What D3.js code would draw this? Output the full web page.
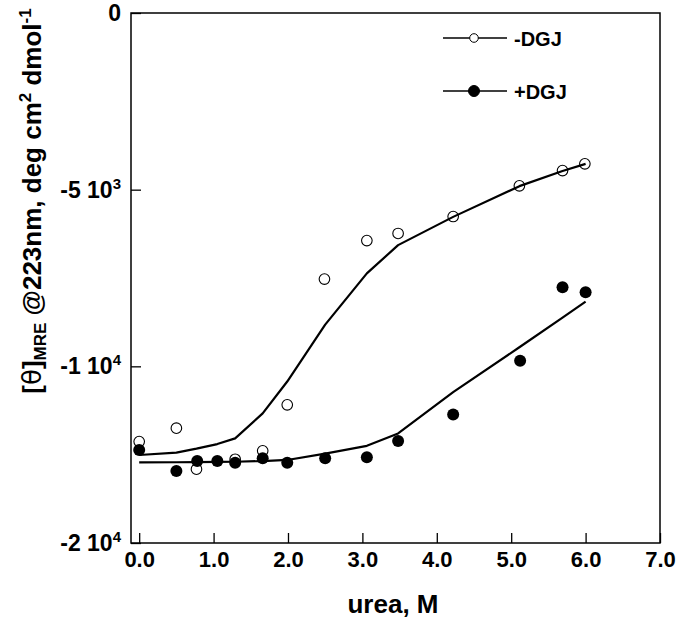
<!DOCTYPE html>
<html>
<head>
<meta charset="utf-8">
<script src="https://cdn.jsdelivr.net/npm/d3@7"></script>
<style>
  html, body { margin: 0; padding: 0; background: #fff; }
  svg { display: block; }
  text { font-family: "Liberation Sans", Arial, Helvetica, sans-serif; font-weight: bold; fill: #000; }
</style>
</head>
<body>
<svg id="chart" width="681" height="620"></svg>
<script>
// ---- data ----
const seriesNames = ["-DGJ", "+DGJ"];

const ureaMinus  = [0.00, 0.50, 0.77, 1.29, 1.66, 1.99, 2.49, 3.06, 3.48, 4.22, 5.11, 5.69, 5.99];
const thetaMinus = [-12130, -11750, -12910, -12630, -12390, -11090, -7530, -6440, -6240, -5760, -4890, -4460, -4270];

const ureaPlus  = [0.00, 0.50, 0.78, 1.05, 1.29, 1.66, 1.99, 2.50, 3.06, 3.48, 4.22, 5.12, 5.69, 6.00];
const thetaPlus = [-12370, -12960, -12680, -12680, -12730, -12600, -12730, -12600, -12570, -12110, -11360, -9840, -7760, -7900];

const fitUrea      = [0.00, 0.50, 0.77, 1.05, 1.29, 1.66, 1.99, 2.50, 3.06, 3.48, 4.22, 5.11, 5.69, 6.00];
const fitMinus     = [-12510, -12440, -12330, -12200, -12040, -11330, -10430, -8820, -7370, -6570, -5770, -4900, -4470, -4270];
const fitPlus      = [-12720, -12715, -12710, -12705, -12700, -12680, -12650, -12470, -12250, -11900, -10730, -9460, -8620, -8170];

const xTickValues = [0, 1, 2, 3, 4, 5, 6, 7];
const yTickValues = [0, -5000, -10000, -15000];
const yTickBase   = ["0", "-5 10", "-1 10", "-2 10"];
const yTickExp    = ["", "3", "4", "4"];

// ---- layout ----
const svg = d3.select("#chart");
const L = 131, R = 660, T = 13, B = 543;

const x = d3.scaleLinear().domain([-0.11, 7]).range([L, R]);
const y = d3.scaleLinear().domain([-15000, 0]).range([B, T]);

svg.append("rect").attr("width", 681).attr("height", 620).attr("fill", "#fff");

// frame
svg.append("rect")
  .attr("x", L).attr("y", T).attr("width", R - L).attr("height", B - T)
  .attr("fill", "none").attr("stroke", "#000").attr("stroke-width", 1.5);

// x axis
const xAxis = d3.axisBottom(x)
  .tickValues(xTickValues)
  .tickFormat(d3.format(".1f"))
  .tickSizeInner(-10).tickSizeOuter(0).tickPadding(24);
const gx = svg.append("g").attr("transform", `translate(0,${B})`).call(xAxis);
gx.select(".domain").remove();
gx.selectAll(".tick line").attr("stroke", "#000").attr("stroke-width", 1.3);
gx.selectAll(".tick text").attr("font-size", 22).attr("font-family", "Liberation Sans, Arial, sans-serif")
  .attr("font-weight", "bold").attr("dy", "0").attr("fill", "#000");

// y axis
const yAxis = d3.axisLeft(y)
  .tickValues(yTickValues)
  .tickSizeInner(-10).tickSizeOuter(0).tickPadding(10);
const gy = svg.append("g").attr("transform", `translate(${L},0)`).call(yAxis);
gy.select(".domain").remove();
gy.selectAll(".tick line").attr("stroke", "#000").attr("stroke-width", 1.3);
gy.selectAll(".tick text").each(function(d) {
  const i = yTickValues.indexOf(d);
  const t = d3.select(this);
  t.text(null)
   .attr("font-size", 23).attr("font-weight", "bold").attr("fill", "#000")
   .attr("font-family", "Liberation Sans, Arial, sans-serif");
  t.append("tspan").text(yTickBase[i]);
  if (yTickExp[i]) {
    t.append("tspan").attr("font-size", 15).attr("dy", -9).text(yTickExp[i]);
  }
});

// axis titles
svg.append("text")
  .attr("x", 393).attr("y", 613)
  .attr("text-anchor", "middle").attr("font-size", 26)
  .text("urea, M");

const yt = svg.append("text")
  .attr("transform", "translate(41,201) rotate(-90)")
  .attr("text-anchor", "middle").attr("font-size", 26);
yt.append("tspan").text("[");
yt.append("tspan").attr("font-family", "DejaVu Sans, sans-serif").attr("font-weight", "normal").text("θ");
yt.append("tspan").text("]");
yt.append("tspan").attr("font-size", 17).attr("dy", 5).text("MRE");
yt.append("tspan").attr("dy", -5).text(" @223nm, deg cm");
yt.append("tspan").attr("font-size", 17).attr("dy", -10).text("2");
yt.append("tspan").attr("dy", 10).text(" dmol");
yt.append("tspan").attr("font-size", 17).attr("dy", -10).text("-1");

// fit lines
const line = d3.line().x(d => x(d[0])).y(d => y(d[1]));
svg.append("path")
  .datum(fitUrea.map((u, i) => [u, fitMinus[i]]))
  .attr("d", line).attr("fill", "none").attr("stroke", "#000").attr("stroke-width", 2.2)
  .attr("stroke-linejoin", "round");
svg.append("path")
  .datum(fitUrea.map((u, i) => [u, fitPlus[i]]))
  .attr("d", line).attr("fill", "none").attr("stroke", "#000").attr("stroke-width", 2.2)
  .attr("stroke-linejoin", "round");

// open circles (-DGJ)
svg.append("g").selectAll("circle")
  .data(ureaMinus.map((u, i) => [u, thetaMinus[i]]))
  .join("circle")
  .attr("cx", d => x(d[0])).attr("cy", d => y(d[1])).attr("r", 5.3)
  .attr("fill", "none").attr("stroke", "#000").attr("stroke-width", 1.1);

// filled circles (+DGJ)
svg.append("g").selectAll("circle")
  .data(ureaPlus.map((u, i) => [u, thetaPlus[i]]))
  .join("circle")
  .attr("cx", d => x(d[0])).attr("cy", d => y(d[1])).attr("r", 6)
  .attr("fill", "#000");

// legend
const legend = [
  { name: seriesNames[0], y: 38, filled: false },
  { name: seriesNames[1], y: 91, filled: true }
];
const lg = svg.append("g");
legend.forEach(e => {
  lg.append("line").attr("x1", 443).attr("x2", 507).attr("y1", e.y).attr("y2", e.y)
    .attr("stroke", "#000").attr("stroke-width", 1.3);
  lg.append("circle").attr("cx", 474).attr("cy", e.y).attr("r", e.filled ? 5.5 : 4.3)
    .attr("fill", e.filled ? "#000" : "#fff").attr("stroke", "#000").attr("stroke-width", 1);
  lg.append("text").attr("x", 514).attr("y", e.y + 8).attr("font-size", 20).text(e.name);
});
</script>
</body>
</html>
